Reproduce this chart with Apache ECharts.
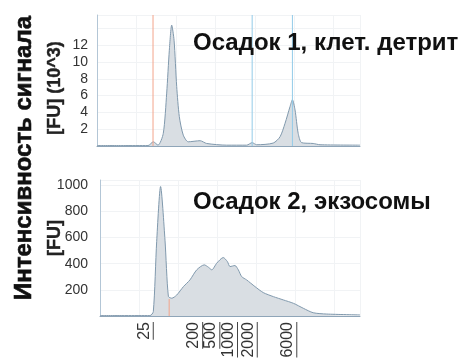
<!DOCTYPE html>
<html><head><meta charset="utf-8">
<script src="https://cdn.jsdelivr.net/npm/echarts@6/dist/echarts.min.js"></script>
<style>html,body{margin:0;padding:0;background:#fff}#c{width:470px;height:362px}</style>
</head><body><div id="c"></div>
<script>
// Panel 1: migration time (arbitrary units) and signal (FU x 10^3)
const topTime   = [0, 10, 19.4, 21.4, 23.2, 25.2, 26.5, 27.5, 28.4, 29.3, 30.3, 31.3, 32.8, 34.7, 39.2, 41.7, 49.3, 56.9, 59.0, 60.7, 67.0, 69.6, 71.5, 73.4, 74.3, 75.3, 76.5, 77.8, 82.2, 84.8, 100];
const topSignal = [0.05, 0.05, 0.05, 0.5, 0.1, 1.5, 6.3, 11.4, 14.4, 12.6, 7.1, 3.5, 1.3, 0.5, 0.63, 0.3, 0.1, 0.1, 0.4, 0.15, 0.35, 1.1, 2.7, 4.7, 5.5, 4.3, 1.5, 0.4, 0.3, 0.15, 0.1];
// Panel 2: signal (FU)
const bottomTime   = [0, 10, 19.2, 20.5, 21.8, 23.3, 25.0, 26.3, 27.6, 29.5, 32.1, 34.6, 37.2, 40.1, 41.7, 43.0, 44.9, 47.4, 49.0, 50.0, 51.9, 53.2, 54.5, 56.4, 59.6, 62.8, 66.7, 70.5, 74.4, 78.2, 82.0, 87.2, 100];
const bottomSignal = [3, 3, 3, 33, 570, 990, 580, 150, 136, 160, 225, 276, 353, 391, 373, 353, 404, 447, 416, 378, 386, 353, 301, 276, 225, 179, 148, 123, 97, 59, 25, 15, 8];
// Ladder (bp) positions on the time axis
const ladderSizes = ['25', '200', '500', '1000', '2000', '6000'];
const ladderTimes = [17.6, 36.6, 43.2, 50.0, 57.6, 72.8];
// Marker lines (time) and their extents (signal)
const topRedMarker = [21.3];
const topBlueMarkers = [59.0, 74.3];
const topMarkerSpan = [0, 15.6];
const bottomRedMarker = [26.6];
const bottomMarkerSpan = [0, 130];
const topTicks = ['2', '4', '6', '8', '10', '12'];
const bottomTicks = ['200', '400', '600', '800', '1000'];

const chart = echarts.init(document.getElementById('c'), null, {renderer: 'canvas'});
const pair = (xs, ys) => xs.map((x, i) => [x, ys[i]]);
const fillColor = '#d9dee3';
const lineColor = '#8099ad';
const redMarker = '#f3a48b';
const blueMarker = '#93cbe8';
const labelFont = '"Liberation Sans", Arial, sans-serif';

const rich = {t: {fontSize: 16, fontFamily: labelFont, color: '#333', lineHeight: 15}};
[1,2,3,4].forEach(n => { rich['u' + n] = {width: n * 8.9, height: 1, lineHeight: 3, backgroundColor: '#444'}; });

const markerSeries = (xi, t, span, color) => ({
  type: 'line', xAxisIndex: xi, yAxisIndex: xi, data: pair([t, t], span), symbol: 'none', silent: true, z: 5,
  lineStyle: {color: color, width: 1, type: 'solid'}
});

chart.setOption({
  animation: false,
  title: [
    {text: 'Осадок 1, клет. детрит', left: 188, top: 26, textStyle: {fontSize: 24, fontWeight: 'bold', color: '#111', fontFamily: labelFont}},
    {text: 'Осадок 2, экзосомы', left: 188, top: 185, textStyle: {fontSize: 24, fontWeight: 'bold', color: '#111', fontFamily: labelFont}}
  ],
  graphic: [{
    type: 'text', x: 24, y: 158, rotation: Math.PI / 2,
    style: {text: 'Интенсивность сигнала', fontSize: 24, fontWeight: 'bold', fontFamily: labelFont, fill: '#111', align: 'center', verticalAlign: 'middle', stroke: '#111', lineWidth: 0.6}
  }],
  grid: [
    {left: 97, width: 263, top: 15, height: 131},
    {left: 100, width: 260, top: 180, height: 136}
  ],
  xAxis: [
    {gridIndex: 0, type: 'value', min: 0, max: 100, interval: 15,
     axisLine: {lineStyle: {color: '#8fa5b8', width: 1}}, axisTick: {show: false}, axisLabel: {show: false},
     splitLine: {show: true, lineStyle: {color: '#f1f3f5'}}},
    {gridIndex: 1, type: 'value', min: 0, max: 100, interval: 15,
     axisLine: {lineStyle: {color: '#8fa5b8', width: 1}}, axisTick: {show: false},
     splitLine: {show: true, lineStyle: {color: '#f1f3f5'}},
     axisLabel: {show: true, customValues: ladderTimes, rotate: 90, margin: 6, rich: rich,
       formatter: v => { const i = ladderTimes.findIndex(t => Math.abs(t - v) < 1e-6); const s = ladderSizes[i]; return '{t|' + s + '}\n{u' + s.length + '|}'; }}}
  ],
  yAxis: [
    {gridIndex: 0, type: 'value', min: 0, max: 15.6, interval: 2,
     name: '[FU] (10^3)   ', nameLocation: 'middle', nameGap: 33, nameMoveOverlap: false,
     nameTextStyle: {fontSize: 18, fontWeight: 'bold', color: '#222', fontFamily: labelFont, textBorderColor: '#222', textBorderWidth: 0.4},
     axisLine: {show: true, lineStyle: {color: '#b3c6d6'}}, axisTick: {show: false},
     splitLine: {show: true, lineStyle: {color: '#f1f3f5'}},
     axisLabel: {margin: 9, fontSize: 14, color: '#333', fontFamily: labelFont,
       formatter: v => topTicks.includes(String(v)) ? String(v) : ''}},
    {gridIndex: 1, type: 'value', min: 0, max: 1040, interval: 200,
     name: '    [FU]', nameLocation: 'middle', nameGap: 36, nameMoveOverlap: false,
     nameTextStyle: {fontSize: 18, fontWeight: 'bold', color: '#222', fontFamily: labelFont, textBorderColor: '#222', textBorderWidth: 0.4},
     axisLine: {show: true, lineStyle: {color: '#b3c6d6'}}, axisTick: {show: false},
     splitLine: {show: true, lineStyle: {color: '#f1f3f5'}},
     axisLabel: {margin: 12, fontSize: 14, color: '#333', fontFamily: labelFont,
       formatter: v => bottomTicks.includes(String(v)) ? String(v) : ''}}
  ],
  series: [
    {type: 'line', xAxisIndex: 0, yAxisIndex: 0, data: pair(topTime, topSignal), smooth: 0.25, symbol: 'none',
     lineStyle: {color: lineColor, width: 1}, areaStyle: {color: fillColor, opacity: 1}},
    {type: 'line', xAxisIndex: 1, yAxisIndex: 1, data: pair(bottomTime, bottomSignal), smooth: 0.25, symbol: 'none',
     lineStyle: {color: lineColor, width: 1}, areaStyle: {color: fillColor, opacity: 1}},
    ...topRedMarker.map(t => markerSeries(0, t, topMarkerSpan, redMarker)),
    ...topBlueMarkers.map(t => markerSeries(0, t, topMarkerSpan, blueMarker)),
    ...bottomRedMarker.map(t => markerSeries(1, t, bottomMarkerSpan, redMarker))
  ]
});
</script></body></html>
